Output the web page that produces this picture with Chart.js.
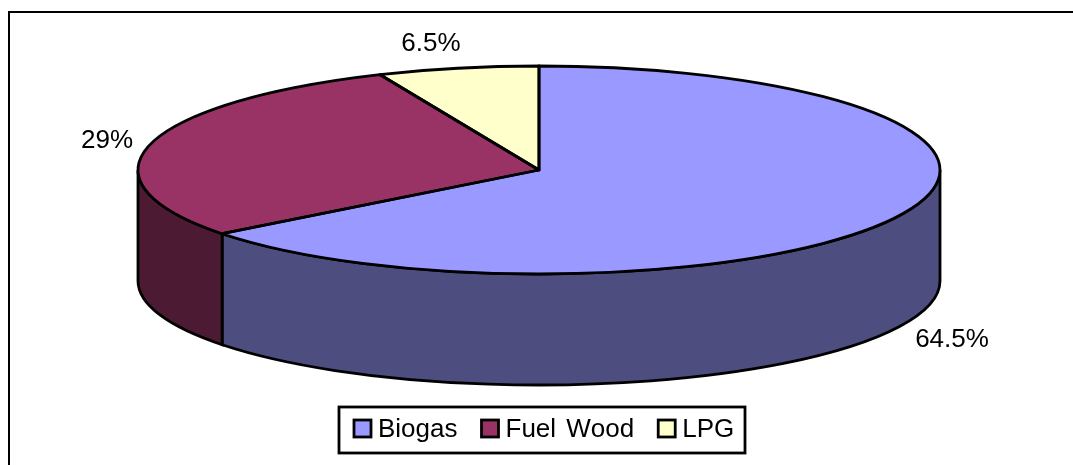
<!DOCTYPE html>
<html>
<head>
<meta charset="utf-8">
<title>Fuel use</title>
<script src="https://cdn.jsdelivr.net/npm/chart.js@4"></script>
<style>
    html, body { margin: 0; padding: 0; background: #fff; overflow: hidden; }
    #frame { position: absolute; left: 8px; top: 11px; right: 0; bottom: 0; border-top: 2px solid #000; border-left: 2px solid #000; }
    #pie { position: absolute; left: 0; top: 0; }
</style>
</head>
<body>
<div id="frame"></div>
<canvas id="pie" width="1073" height="465"></canvas>
<script>
const fuels = ['Biogas', 'Fuel Wood', 'LPG'];
const shares = [64.5, 29, 6.5];
const topColors = ['#9999FF', '#993366', '#FFFFCC'];
const wallColors = ['#4D4D80', '#4D1A33', '#808066'];

// tilted disc: ellipse centre, radii, thickness of the wall
const disc = { cx: 539, cy: 170, rx: 401, ry: 104, depth: 111 };
// centres of the percentage labels, same order as fuels
const labelSpots = [[952, 340], [107, 141], [431, 44]];
const FONT = '26px "Liberation Sans", Arial, sans-serif';
const LINE = 2.8;

function discPath(ctx, start, end) {
    ctx.beginPath();
    ctx.moveTo(disc.cx, disc.cy);
    ctx.ellipse(disc.cx, disc.cy, disc.rx, disc.ry, 0, start, end);
    ctx.closePath();
}

// the wall only shows on the front half of the disc (0..PI on canvas)
function drawWall(ctx, arc, color) {
    const start = Math.max(arc.startAngle, 0);
    const end = Math.min(arc.endAngle, Math.PI);
    if (end <= start) return;
    ctx.beginPath();
    ctx.ellipse(disc.cx, disc.cy, disc.rx, disc.ry, 0, start, end);
    ctx.ellipse(disc.cx, disc.cy + disc.depth, disc.rx, disc.ry, 0, end, start, true);
    ctx.closePath();
    ctx.fillStyle = color;
    ctx.fill();
    ctx.stroke();
}

const tiltPlugin = {
    id: 'tilt',
    beforeDatasetsDraw(chart) {
        const ctx = chart.ctx;
        const arcs = chart.getDatasetMeta(0).data;
        ctx.save();
        ctx.strokeStyle = '#000';
        ctx.lineWidth = LINE;
        arcs.forEach((arc, i) => drawWall(ctx, arc, wallColors[i]));
        ctx.restore();

        // squash the round pie into the disc ellipse
        const first = arcs[0];
        ctx.save();
        ctx.translate(disc.cx, disc.cy);
        ctx.scale(disc.rx / first.outerRadius, disc.ry / first.outerRadius);
        ctx.translate(-first.x, -first.y);
    },
    afterDatasetsDraw(chart) {
        const ctx = chart.ctx;
        ctx.restore();
        ctx.save();
        ctx.strokeStyle = '#000';
        ctx.lineWidth = LINE;
        ctx.lineJoin = 'round';
        chart.getDatasetMeta(0).data.forEach(arc => {
            discPath(ctx, arc.startAngle, arc.endAngle);
            ctx.stroke();
        });

        ctx.fillStyle = '#000';
        ctx.font = FONT;
        ctx.textAlign = 'center';
        ctx.textBaseline = 'middle';
        shares.forEach((v, i) => ctx.fillText(v + '%', labelSpots[i][0], labelSpots[i][1]));
        ctx.restore();
    }
};

const legendPlugin = {
    id: 'boxedLegend',
    afterDraw(chart) {
        const ctx = chart.ctx;
        ctx.save();
        ctx.strokeStyle = '#000';
        ctx.lineWidth = LINE;
        ctx.strokeRect(339, 407, 406, 46);
        ctx.font = FONT;
        ctx.fontKerning = 'none';
        ctx.wordSpacing = '3px';
        ctx.textAlign = 'left';
        ctx.textBaseline = 'alphabetic';
        let x = 354;
        fuels.forEach((name, i) => {
            ctx.fillStyle = topColors[i];
            ctx.fillRect(x, 420, 17, 17);
            ctx.strokeRect(x, 420, 17, 17);
            ctx.fillStyle = '#000';
            ctx.fillText(name, x + 24, 437);
            x += 24 + ctx.measureText(name).width + 24;
        });
        ctx.restore();
    }
};

new Chart(document.getElementById('pie'), {
    type: 'pie',
    data: {
        labels: fuels,
        datasets: [{
            data: shares,
            backgroundColor: topColors,
            borderWidth: 0,
            clip: false
        }]
    },
    options: {
        responsive: false,
        animation: false,
        plugins: {
            legend: { display: false },
            tooltip: { enabled: false }
        }
    },
    plugins: [tiltPlugin, legendPlugin]
});
</script>
</body>
</html>
